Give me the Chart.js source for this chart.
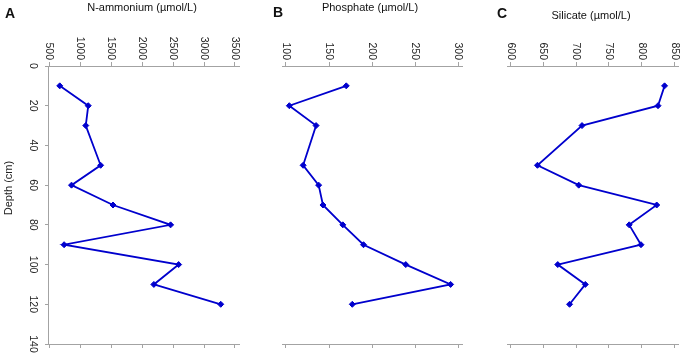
<!DOCTYPE html>
<html>
<head>
<meta charset="utf-8">
<script src="https://cdn.jsdelivr.net/npm/chart.js@4.4.1/dist/chart.umd.min.js"></script>
<style>
  body { margin: 0; background: #fff; }
  .wrap { position: relative; width: 686px; height: 355px; }
  canvas { position: absolute; left: 0; top: 0; }
</style>
</head>
<body>
<div class="wrap">
  <canvas id="panelA" width="686" height="355"></canvas>
  <canvas id="panelB" width="686" height="355"></canvas>
  <canvas id="panelC" width="686" height="355"></canvas>
</div>
<script>
// depth profiles, values
const depths = [10, 20, 30, 50, 60, 70, 80, 90, 100, 110, 120];
const ammonium = [670, 1130, 1090, 1330, 860, 1530, 2460, 740, 2590, 2190, 3270];
const phosphate = [170, 104, 135, 120, 138, 143, 166, 190, 239, 291, 177];
const silicate = [835, 825, 709, 641, 704, 823, 781, 799, 672, 714, 690];

const depthTicks = [0, 20, 40, 60, 80, 100, 120, 140];
const ammoniumTicks = [500, 1000, 1500, 2000, 2500, 3000, 3500];
const phosphateTicks = [100, 150, 200, 250, 300];
const silicateTicks = [600, 650, 700, 750, 800, 850];

const blue = "rgb(0,0,205)";
const gray = "#a3a3a3";
const font = '"Liberation Sans", Arial, sans-serif';

// draws rotated tick labels, titles and panel letters
const textPlugin = {
    id: "panelText",
    afterDraw(chart, args, o) {
        const ctx = chart.ctx;
        const area = chart.chartArea;
        const xs = chart.scales.x;
        ctx.save();
        ctx.fillStyle = "#222";
        ctx.font = "10.5px " + font;
        xs.ticks.forEach(t => {
            const px = xs.getPixelForValue(t.value);
            ctx.save();
            ctx.translate(px, area.top - 6);
            ctx.rotate(Math.PI / 2);
            ctx.textAlign = "right";
            ctx.textBaseline = "middle";
            ctx.fillText(String(t.value), 0, 0);
            ctx.restore();
        });

        if (o.showDepth) {
            const ys = chart.scales.y;
            ys.ticks.forEach(t => {
                const py = ys.getPixelForValue(t.value);
                ctx.save();
                ctx.translate(33, py);
                ctx.rotate(Math.PI / 2);
                ctx.textAlign = "center";
                ctx.textBaseline = "middle";
                ctx.fillText(String(t.value), 0, 0);
                ctx.restore();
            });
            ctx.save();
            ctx.font = "11px " + font;
            ctx.translate(9, 188);
            ctx.rotate(-Math.PI / 2);
            ctx.textAlign = "center";
            ctx.textBaseline = "middle";
            ctx.fillText("Depth (cm)", 0, 0);
            ctx.restore();
        }

        ctx.fillStyle = "#111";
        ctx.font = "11px " + font;
        ctx.textAlign = "center";
        ctx.textBaseline = "middle";
        ctx.fillText(o.title, o.titleX, o.titleY);

        ctx.font = "bold 14px " + font;
        ctx.fillText(o.letter, o.letterX, o.letterY);
        ctx.restore();
    }
};

function makePanel(id, values, ticks, min, max, pad, text, showDepth) {
    const setTicks = list => axis => {
        axis.ticks = list.map(v => ({ value: v }));
    };
    return new Chart(document.getElementById(id), {
        type: "line",
        data: {
            datasets: [{
                data: depths.map((d, i) => ({ x: values[i], y: d })),
                borderColor: blue,
                borderWidth: 1.8,
                pointStyle: "rectRot",
                pointRadius: 3,
                pointBackgroundColor: blue,
                pointBorderColor: blue,
                pointBorderWidth: 1,
                clip: false,
            }],
        },
        options: {
            responsive: false,
            animation: false,
            layout: { padding: pad },
            plugins: {
                legend: { display: false },
                tooltip: { enabled: false },
                panelText: Object.assign({ showDepth: showDepth }, text),
            },
            scales: {
                x: {
                    type: "linear",
                    position: "top",
                    min: min,
                    max: max,
                    afterBuildTicks: setTicks(ticks),
                    afterFit: s => { s.height = 4; },
                    ticks: { display: false },
                    grid: { drawOnChartArea: false, color: gray, tickLength: 4, tickWidth: 1 },
                    border: { color: gray, width: 1 },
                },
                x2: {
                    type: "linear",
                    axis: "x",
                    position: "bottom",
                    min: min,
                    max: max,
                    afterBuildTicks: setTicks(ticks),
                    afterFit: s => { s.height = 4; },
                    ticks: { display: false },
                    grid: { drawOnChartArea: false, color: gray, tickLength: 4, tickWidth: 1 },
                    border: { color: gray, width: 1 },
                },
                y: {
                    type: "linear",
                    display: showDepth,
                    reverse: true,
                    min: 0,
                    max: 140,
                    afterBuildTicks: setTicks(depthTicks),
                    afterFit: s => { s.width = 4; },
                    ticks: { display: false },
                    grid: { drawOnChartArea: false, color: gray, tickLength: 3, tickWidth: 1 },
                    border: { color: gray, width: 1 },
                },
            },
        },
        plugins: [textPlugin],
    });
}

makePanel("panelA", ammonium, ammoniumTicks, 480, 3565,
    { left: 44, right: 447, top: 62, bottom: 7 },
    { title: "N-ammonium (µmol/L)", titleX: 142, titleY: 8, letter: "A", letterX: 10, letterY: 14 }, true);

makePanel("panelB", phosphate, phosphateTicks, 95.5, 304.2,
    { left: 278, right: 224, top: 62, bottom: 7 },
    { title: "Phosphate (µmol/L)", titleX: 370, titleY: 8, letter: "B", letterX: 278, letterY: 13 }, false);

makePanel("panelC", silicate, silicateTicks, 594.5, 855.5,
    { left: 503, right: 8, top: 62, bottom: 7 },
    { title: "Silicate (µmol/L)", titleX: 591, titleY: 16, letter: "C", letterX: 502, letterY: 14 }, false);
</script>
</body>
</html>
